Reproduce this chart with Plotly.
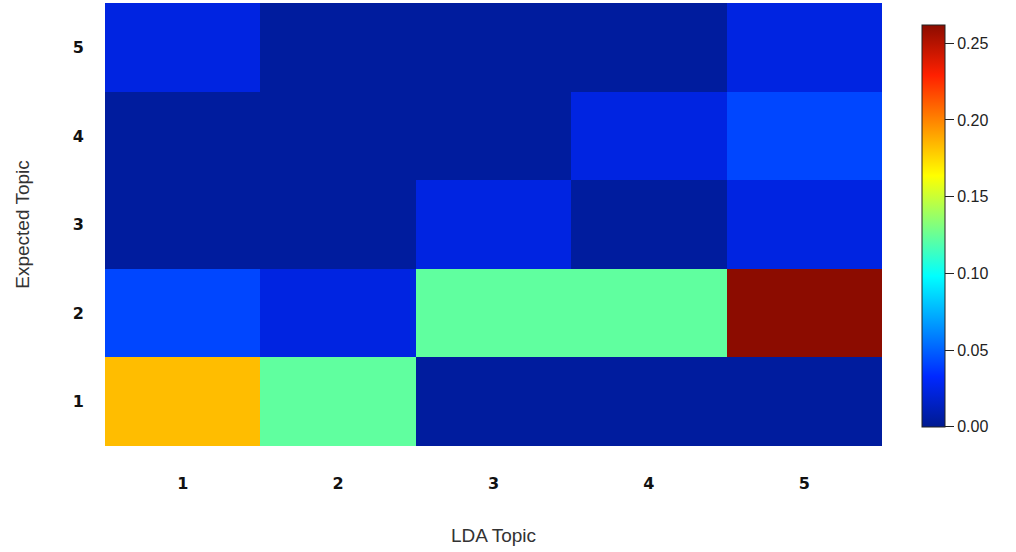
import plotly.graph_objects as go

lda_topics = [1, 2, 3, 4, 5]
expected_topics = [1, 2, 3, 4, 5]
row_expected_1 = [0.183, 0.123, 0.004, 0.004, 0.004]
row_expected_2 = [0.042, 0.024, 0.123, 0.123, 0.262]
row_expected_3 = [0.004, 0.004, 0.024, 0.004, 0.024]
row_expected_4 = [0.004, 0.004, 0.004, 0.024, 0.042]
row_expected_5 = [0.024, 0.004, 0.004, 0.004, 0.024]
z = [row_expected_1, row_expected_2, row_expected_3, row_expected_4, row_expected_5]
cbar_ticks = [0.00, 0.05, 0.10, 0.15, 0.20, 0.25]

jet = [[0.0, "#001A90"], [0.125, "#0028FF"], [0.375, "#00FFFF"],
       [0.625, "#FFFF00"], [0.875, "#FF2000"], [1.0, "#8C0C00"]]

fig = go.Figure(go.Heatmap(
    x=lda_topics, y=expected_topics, z=z,
    colorscale=jet, zmin=0.0, zmax=0.262,
    colorbar=dict(
        x=1.0515, xanchor="left", xpad=0, ypad=0,
        thickness=23, thicknessmode="pixels",
        len=402, lenmode="pixels", y=0.497, yanchor="middle",
        outlinecolor="#222222", outlinewidth=1,
        tickvals=cbar_ticks, ticktext=[f"{v:.2f}" for v in cbar_ticks],
        ticks="outside", ticklen=9, tickcolor="#222222",
        tickfont=dict(family="Liberation Sans, Arial", size=16, color="#222222"),
    ),
))

fig.update_layout(
    width=1016, height=552,
    margin=dict(l=105, r=134, t=3, b=106),
    paper_bgcolor="white", plot_bgcolor="white",
    xaxis=dict(
        tickvals=lda_topics, ticks="", showgrid=False, zeroline=False,
        tickfont=dict(family="DejaVu Sans", size=16, color="#111111", weight=600),
        ticklabelstandoff=26,
        title=dict(text="LDA Topic", standoff=36,
                   font=dict(family="Liberation Sans Narrow, Liberation Sans", size=19, color="#333333")),
    ),
    yaxis=dict(
        tickvals=expected_topics, ticks="", showgrid=False, zeroline=False,
        tickfont=dict(family="DejaVu Sans", size=16, color="#111111", weight=600),
        ticklabelstandoff=20,
        title=dict(text="Expected Topic", standoff=38,
                   font=dict(family="Liberation Sans Narrow, Liberation Sans", size=19, color="#333333")),
    ),
)

fig.write_html("out.html", config={"displayModeBar": False},
               post_script="document.body.style.margin='0px';")
